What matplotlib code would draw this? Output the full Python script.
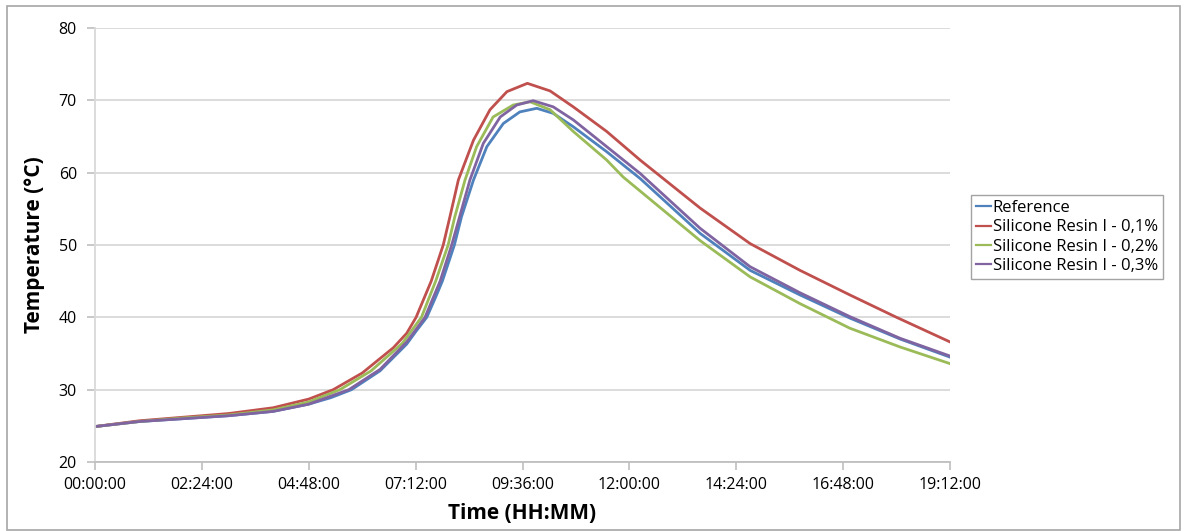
import matplotlib
matplotlib.use("Agg")
import matplotlib.pyplot as plt
from matplotlib.ticker import FuncFormatter, MultipleLocator
from matplotlib.patches import Rectangle

plt.rcParams['font.family'] = ['Open Sans', 'DejaVu Sans']

# time in hours, temperature in °C
t_ref = [0, 1, 2, 3, 4, 4.8, 5.3, 5.76, 6.4, 7.0, 7.2, 7.45, 7.65, 7.8, 8.07, 8.23, 8.5, 8.8,
         9.17, 9.54, 9.92, 10.29, 10.74, 11.49, 12.24, 13.59, 14.71, 15.83, 16.95, 18.08, 19.2]
T_ref = [24.9, 25.6, 26.0, 26.4, 27.0, 28.0, 28.9, 30.0, 32.6, 36.3, 38.0, 40.0, 42.8, 45.0,
         50.0, 53.9, 59.0, 63.6, 66.8, 68.4, 68.9, 68.2, 66.35, 62.9, 59.2, 51.6, 46.5, 43.1,
         39.9, 37.0, 34.5]

t_01 = [0, 1, 2, 3, 4, 4.8, 5.35, 6.0, 6.7, 7.0, 7.21, 7.55, 7.82, 7.97, 8.16, 8.5, 8.87,
        9.25, 9.71, 10.22, 10.74, 11.49, 12.24, 13.59, 14.71, 15.83, 16.95, 18.0, 19.2]
T_01 = [24.9, 25.7, 26.2, 26.7, 27.5, 28.7, 30.0, 32.3, 35.8, 37.8, 40.0, 45.0, 50.0, 53.9,
        59.0, 64.5, 68.7, 71.2, 72.35, 71.3, 69.1, 65.7, 61.75, 55.1, 50.2, 46.5, 43.1,
        40.0, 36.6]

t_02 = [0, 1, 2, 3, 4, 4.8, 5.5, 6.2, 6.9, 7.33, 7.65, 7.93, 8.08, 8.31, 8.57, 8.94, 9.39,
        9.77, 10.22, 10.74, 11.49, 11.86, 13.59, 14.71, 15.83, 16.95, 18.08, 19.2]
T_02 = [24.9, 25.6, 26.1, 26.5, 27.2, 28.3, 30.0, 32.6, 36.4, 40.0, 45.0, 50.0, 53.9, 59.0,
        63.6, 67.7, 69.35, 69.8, 68.7, 65.7, 61.75, 59.4, 50.6, 45.6, 41.9, 38.5, 35.9, 33.6]

t_03 = [0, 1, 2, 3, 4, 4.8, 5.7, 6.4, 7.0, 7.41, 7.75, 8.01, 8.42, 8.72, 9.1, 9.47, 9.84,
        10.29, 10.74, 11.49, 12.24, 13.59, 14.71, 15.83, 16.95, 18.08, 19.2]
T_03 = [24.9, 25.6, 26.0, 26.4, 27.0, 28.0, 30.0, 32.8, 36.6, 40.0, 45.0, 50.0, 59.0, 64.05,
        67.7, 69.35, 69.95, 69.1, 67.3, 63.6, 59.9, 52.3, 47.0, 43.4, 40.1, 37.1, 34.65]

labels = ['Reference', 'Silicone Resin I - 0,1%', 'Silicone Resin I - 0,2%', 'Silicone Resin I - 0,3%']
colors = ['#4F81BD', '#C0504D', '#9BBB59', '#8064A2']

fig = plt.figure(figsize=(11.86, 5.31), dpi=100)
ax = fig.add_axes([95 / 1186, 1 - 462 / 531, 855 / 1186, 434 / 531])

for t, T, lab, c in zip([t_ref, t_01, t_02, t_03], [T_ref, T_01, T_02, T_03], labels, colors):
    ax.plot(t, T, color=c, lw=2, label=lab, solid_joinstyle='round')

ax.set_xlim(0, 19.2)
ax.set_ylim(20, 80)
ax.xaxis.set_major_locator(MultipleLocator(2.4))
ax.yaxis.set_major_locator(MultipleLocator(10))


def hms(x, pos):
    m = int(round(x * 60))
    return '%02d:%02d:00' % (m // 60, m % 60)


ax.xaxis.set_major_formatter(FuncFormatter(hms))
ax.grid(axis='y', color='#d9d9d9', lw=1.3)
ax.set_axisbelow(True)
for s in ['top', 'right']:
    ax.spines[s].set_visible(False)
ax.spines['left'].set_color('#d9d9d9')
ax.spines['bottom'].set_color('#bfbfbf')
ax.spines['left'].set_linewidth(1.3)
ax.spines['bottom'].set_linewidth(1.3)
ax.tick_params(axis='both', colors='#bfbfbf', labelcolor='black', labelsize=11.5, length=6, width=1.2)
ax.tick_params(axis='y', pad=7)
ax.tick_params(axis='x', pad=5)

ax.set_xlabel('Time (HH:MM)', fontsize=15, fontweight='bold', labelpad=7)
ax.set_ylabel('Temperature (°C)', fontsize=15, fontweight='bold', labelpad=10)

leg = ax.legend(loc='upper left', bbox_to_anchor=(971 / 1186, 1 - 195 / 531),
                bbox_transform=fig.transFigure, fontsize=12, frameon=True, fancybox=False,
                handlelength=0.9, handletextpad=0.1, borderpad=0.3, labelspacing=0.2,
                borderaxespad=0)
leg.get_frame().set_edgecolor('#8c8c8c')
leg.get_frame().set_linewidth(1.0)
for h in leg.legend_handles:
    h.set_linewidth(1.6)

fig.patches.append(Rectangle((7 / 1186, 1 / 531), 1173 / 1186, 524 / 531, transform=fig.transFigure,
                             fill=False, edgecolor='#a6a6a6', lw=1.2))

fig.savefig('out.png', dpi=100)
